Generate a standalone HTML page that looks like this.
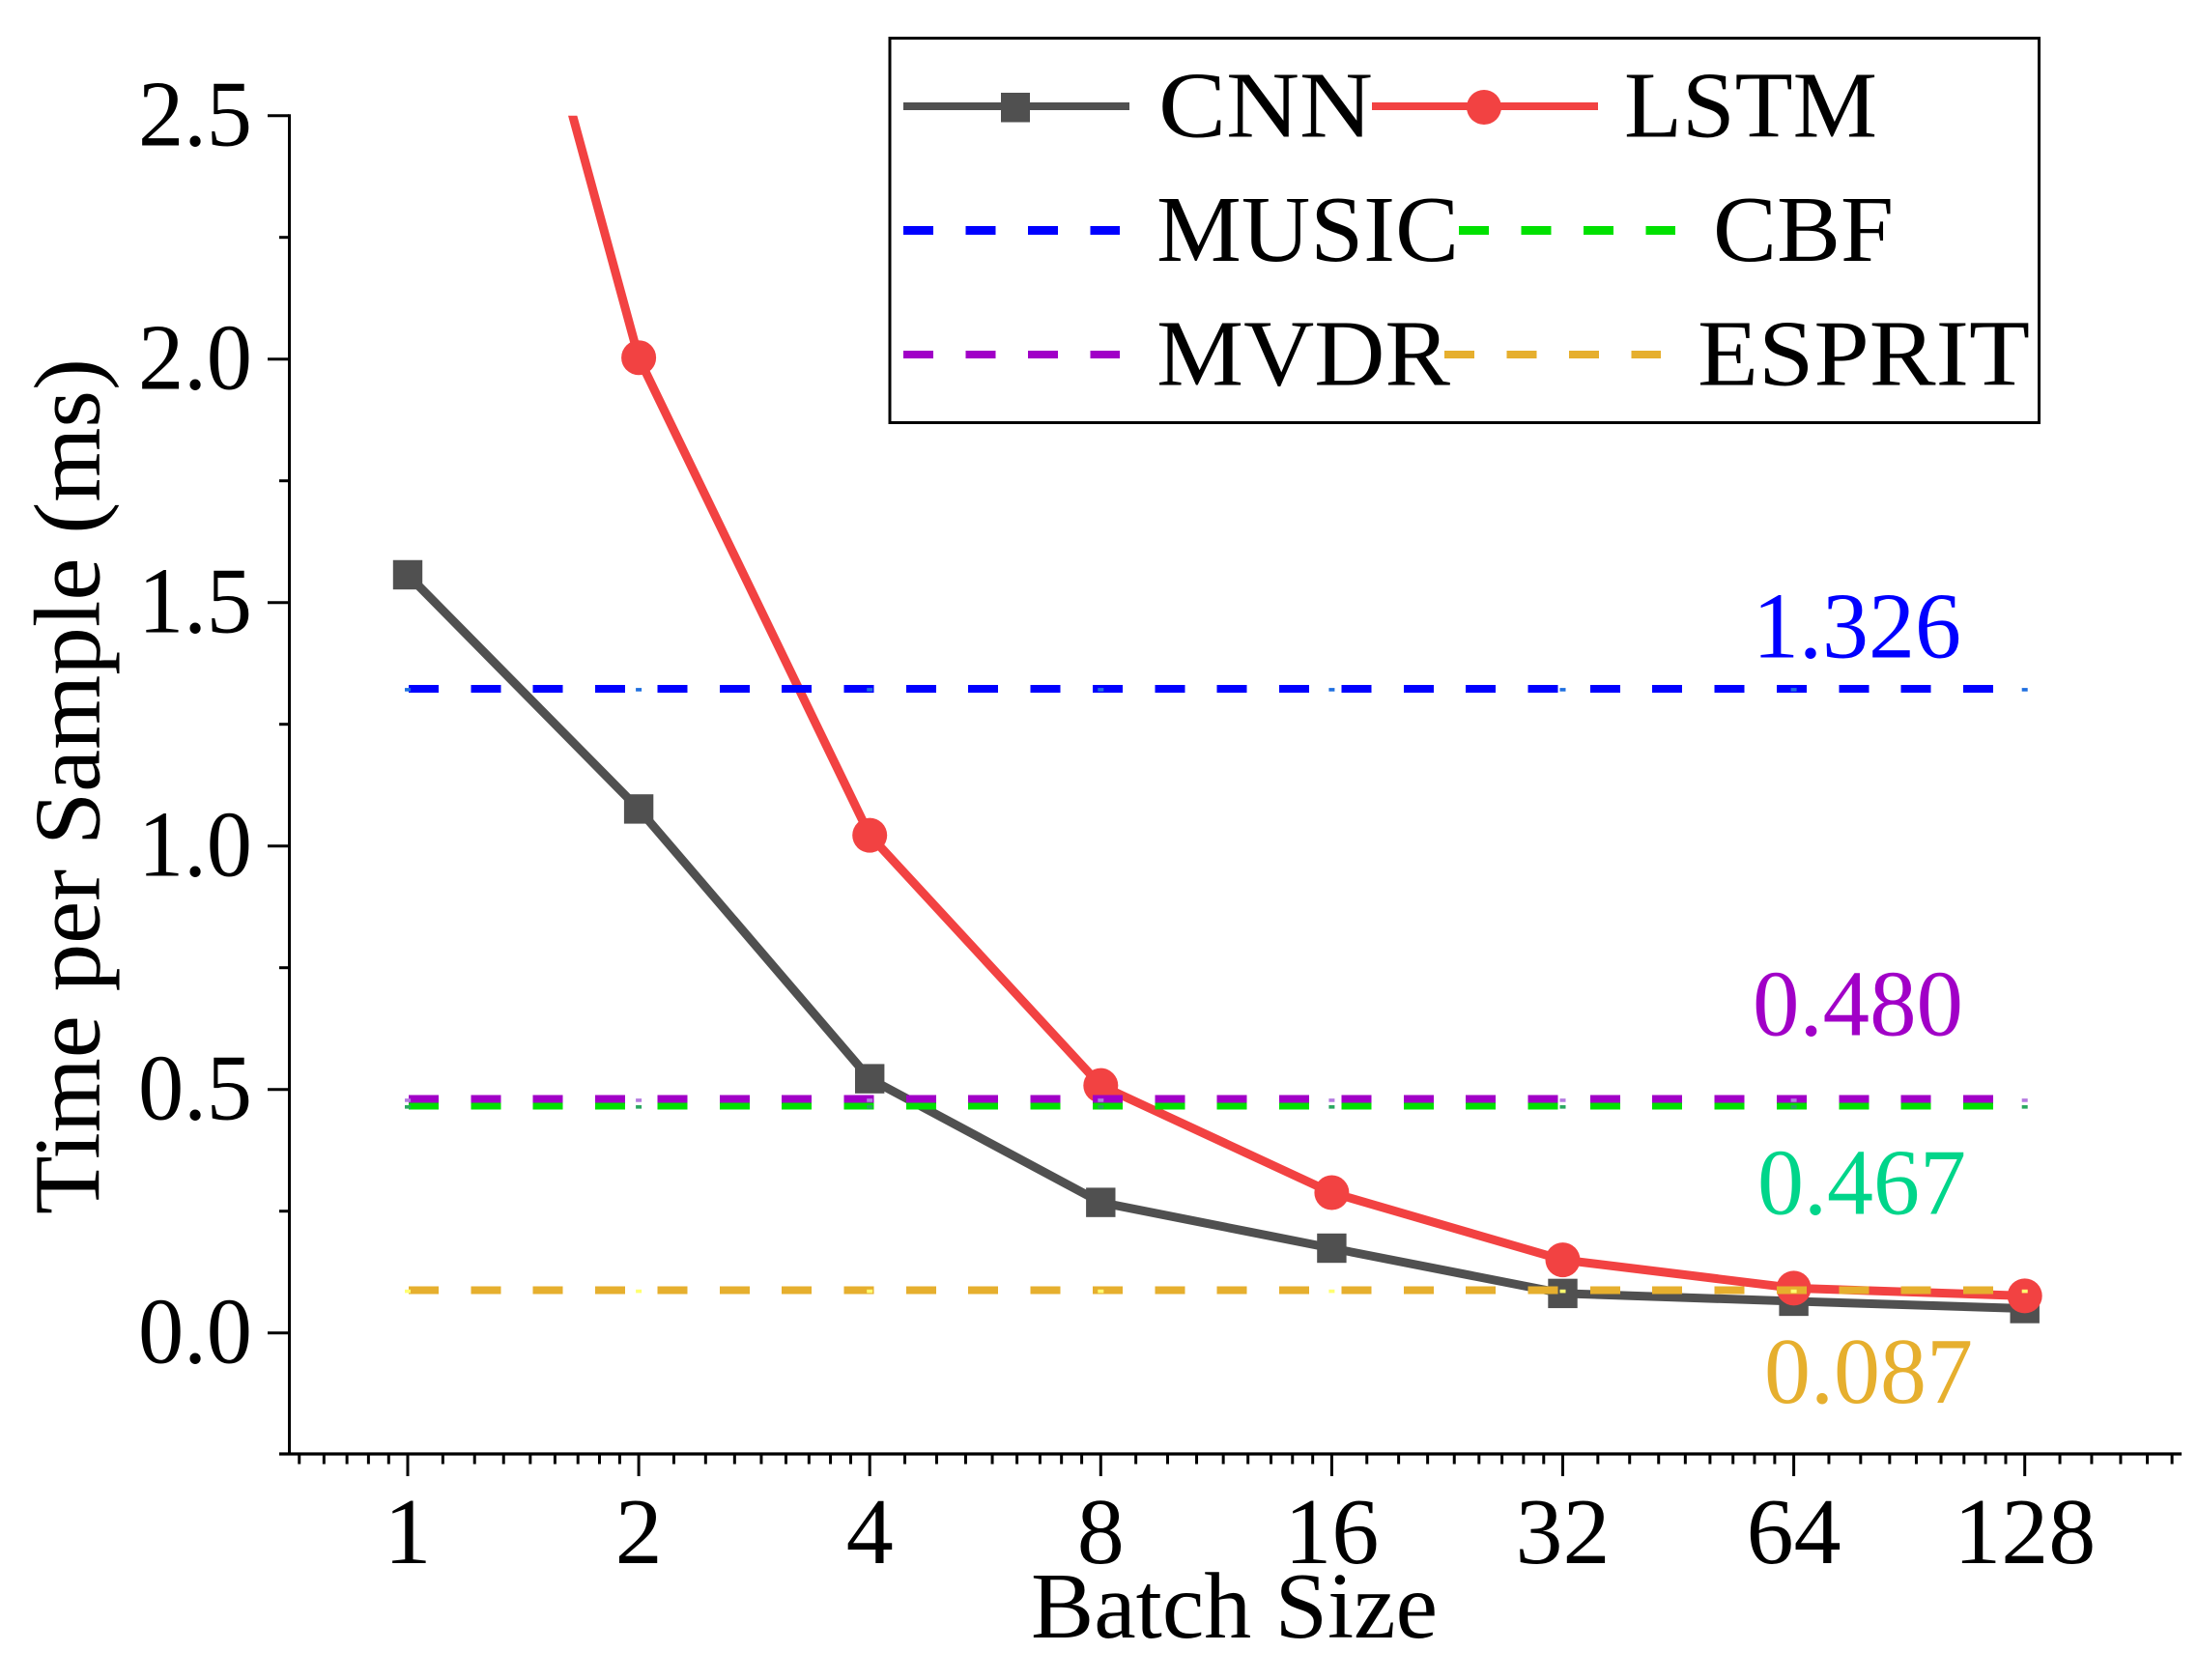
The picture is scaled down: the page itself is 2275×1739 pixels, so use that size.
<!DOCTYPE html>
<html lang="en">
<head>
<meta charset="utf-8">
<title>Time per Sample vs Batch Size</title>
<style>
html,body{margin:0;padding:0;background:#fff;}
svg{display:block;}
text{font-family:"Liberation Serif","Times New Roman",serif;font-size:98px;fill:#000;}
</style>
</head>
<body>
<svg id="chart" xmlns="http://www.w3.org/2000/svg" width="2275" height="1739" viewBox="0 0 2275 1739">
  <defs>
    <clipPath id="plot-clip"><rect x="299" y="119.7" width="1959" height="1386"></rect></clipPath>
  </defs>
  <rect x="0" y="0" width="2275" height="1739" fill="#ffffff"></rect>
  <g id="axes"></g>
  <g id="series" clip-path="url(#plot-clip)"></g>
  <g id="ticklabels"></g>

  <text x="1067" y="1695" textLength="421" lengthAdjust="spacingAndGlyphs">Batch Size</text>
  <text transform="translate(102.5,1257) rotate(-90)" x="0" y="0" textLength="886" lengthAdjust="spacingAndGlyphs">Time per Sample (ms)</text>

  <text x="1814" y="680.5" textLength="216" lengthAdjust="spacingAndGlyphs" style="fill:#0000ff">1.326</text>
  <text x="1814" y="1071.5" textLength="218" lengthAdjust="spacingAndGlyphs" style="fill:#a100c7">0.480</text>
  <text x="1819" y="1256.5" textLength="216" lengthAdjust="spacingAndGlyphs" style="fill:#00d58a">0.467</text>
  <text x="1826" y="1452" textLength="216" lengthAdjust="spacingAndGlyphs" style="fill:#e6af2e">0.087</text>

  <g>
    <rect x="921" y="39.5" width="1189.5" height="398" fill="#ffffff" stroke="#000000" stroke-width="3"></rect>

    <g>
      <line x1="935" y1="110" x2="1169" y2="110" stroke="#505050" stroke-width="8"></line>
      <rect x="1036" y="96" width="30" height="30.5" fill="#505050"></rect>
      <text x="1199" y="141.7" textLength="222" lengthAdjust="spacingAndGlyphs">CNN</text>
    </g>
    <g>
      <line x1="1420" y1="110" x2="1654" y2="110" stroke="#f24242" stroke-width="8"></line>
      <circle cx="1536" cy="111" r="18" fill="#f24242"></circle>
      <text x="1681" y="141.7" textLength="262" lengthAdjust="spacingAndGlyphs">LSTM</text>
    </g>
    <g>
      <line x1="935" y1="238.5" x2="1159" y2="238.5" stroke="#0000ff" stroke-width="9" stroke-dasharray="31 33.5" shape-rendering="crispEdges"></line>
      <text x="1197" y="270" textLength="313" lengthAdjust="spacingAndGlyphs">MUSIC</text>
    </g>
    <g>
      <line x1="1510" y1="238.5" x2="1734" y2="238.5" stroke="#00e100" stroke-width="9" stroke-dasharray="31 33.5" shape-rendering="crispEdges"></line>
      <text x="1773" y="270" textLength="187" lengthAdjust="spacingAndGlyphs">CBF</text>
    </g>
    <g>
      <line x1="935" y1="367" x2="1159" y2="367" stroke="#a100c7" stroke-width="8" stroke-dasharray="31 33.5" shape-rendering="crispEdges"></line>
      <text x="1197" y="398.3" textLength="304" lengthAdjust="spacingAndGlyphs">MVDR</text>
    </g>
    <g>
      <line x1="1495" y1="367" x2="1719" y2="367" stroke="#e6af2e" stroke-width="8" stroke-dasharray="31 33.5" shape-rendering="crispEdges"></line>
      <text x="1757" y="398.3" textLength="344" lengthAdjust="spacingAndGlyphs">ESPRIT</text>
    </g>
  </g>
</svg>

<script>
const batchSizes = [1, 2, 4, 8, 16, 32, 64, 128];
const cnnTimes = [1.557, 1.076, 0.522, 0.268, 0.174, 0.081, 0.065, 0.05];
const lstmTimes = [3.74, 2.003, 1.022, 0.508, 0.288, 0.15, 0.092, 0.076];
const musicTime = 1.323;
const cbfTime = 0.467;
const mvdrTime = 0.4807;
const espritTime = 0.0875;
const yTickValues = [0, 0.5, 1, 1.5, 2, 2.5];
const yTickLabels = ['0.0', '0.5', '1.0', '1.5', '2.0', '2.5'];
const yMinorTickValues = [0.25, 0.75, 1.25, 1.75, 2.25];
const xTickLabels = ['1', '2', '4', '8', '16', '32', '64', '128'];

const NS = 'http://www.w3.org/2000/svg';
const axesLayer = document.getElementById('axes');
const seriesLayer = document.getElementById('series');
const labelLayer = document.getElementById('ticklabels');

function xScale(b) { return 422 + 239.1 * Math.log2(b); }
function yScale(v) { return 1379.7 - 504 * v; }

function make(tag, attrs, parent) {
  const node = document.createElementNS(NS, tag);
  for (const k in attrs) node.setAttribute(k, attrs[k]);
  parent.appendChild(node);
  return node;
}

/* axes */
let el = make('line', {x1: 299.5, y1: 118.2, x2: 299.5, y2: 1505, stroke: '#000', 'stroke-width': 3}, axesLayer);


el = make('line', {x1: 289, y1: 1505, x2: 2258, y2: 1505, stroke: '#000', 'stroke-width': 3.2}, axesLayer);



yTickValues.forEach(function (v, i) {
  const y = yScale(v);
  const tick = make('line', {x1: 277, y1: y, x2: 299, y2: y, stroke: '#000', 'stroke-width': 3}, axesLayer);
  
  
  const label = make('text', {x: 261, y: y + 31, 'text-anchor': 'end', textLength: 118, lengthAdjust: 'spacingAndGlyphs'}, labelLayer);
  label.textContent = yTickLabels[i];
  
  
});

yMinorTickValues.forEach(function (v) {
  const y = yScale(v);
  const tick = make('line', {x1: 289, y1: y, x2: 299, y2: y, stroke: '#000', 'stroke-width': 3}, axesLayer);
  
  
});

batchSizes.forEach(function (b, i) {
  const x = xScale(b);
  const tick = make('line', {x1: x, y1: 1505, x2: x, y2: 1528, stroke: '#000', 'stroke-width': 3}, axesLayer);
  
  
  const label = make('text', {x: x, y: 1618, 'text-anchor': 'middle'}, labelLayer);
  label.textContent = xTickLabels[i];
  
  
});

/* log-axis minor ticks: eight per octave */
for (let octave = 0.5; octave < 256; octave *= 2) {
  for (let k = 1; k <= 8; k++) {
    const x = xScale(octave * (1 + k / 9));
    if (x < 289 || x > 2258) continue;
    const tick = make('line', {x1: x, y1: 1505, x2: x, y2: 1515.5, stroke: '#000', 'stroke-width': 3}, axesLayer);
    
    
  }
}

/* CNN series */
el = make('polyline', {
  points: batchSizes.map(function (b, i) { return xScale(b) + ',' + yScale(cnnTimes[i]); }).join(' '),
  fill: 'none', stroke: '#505050', 'stroke-width': 9, 'stroke-linejoin': 'round'
}, seriesLayer);


batchSizes.forEach(function (b, i) {
  const marker = make('rect', {x: xScale(b) - 15.2, y: yScale(cnnTimes[i]) - 15.2, width: 30.4, height: 30.4, fill: '#505050'}, seriesLayer);
  
  
});

/* LSTM series */
el = make('polyline', {
  points: batchSizes.map(function (b, i) { return xScale(b) + ',' + yScale(lstmTimes[i]); }).join(' '),
  fill: 'none', stroke: '#f24242', 'stroke-width': 9, 'stroke-linejoin': 'round'
}, seriesLayer);


batchSizes.forEach(function (b, i) {
  const marker = make('circle', {cx: xScale(b), cy: yScale(lstmTimes[i]), r: 18, fill: '#f24242'}, seriesLayer);
  
  
});

/* constant-time reference lines */
function referenceLine(value, color, dotColor, width, dotOffset) {
  const y = yScale(value);
  const group = make('g', {}, seriesLayer);
  make('line', {
    x1: 423, y1: y, x2: xScale(128), y2: y,
    stroke: color, 'stroke-width': width, 'stroke-dasharray': '31 33.36',
    'shape-rendering': 'crispEdges'
  }, group);
  batchSizes.forEach(function (b) {
    make('rect', {x: xScale(b) - 3, y: y + dotOffset - 1.8, width: 6, height: 3.6, fill: dotColor}, group);
  });
  return group;
}

el = referenceLine(cbfTime, '#00e100', '#2aa860', 8, 1.5);


el = referenceLine(musicTime, '#0000ff', '#1f6fe0', 8, 1);


el = referenceLine(mvdrTime, '#a100c7', '#b57ae0', 8, 1.5);


el = referenceLine(espritTime, '#e6af2e', '#ffff70', 8, 1);


</script>
</body>
</html>
